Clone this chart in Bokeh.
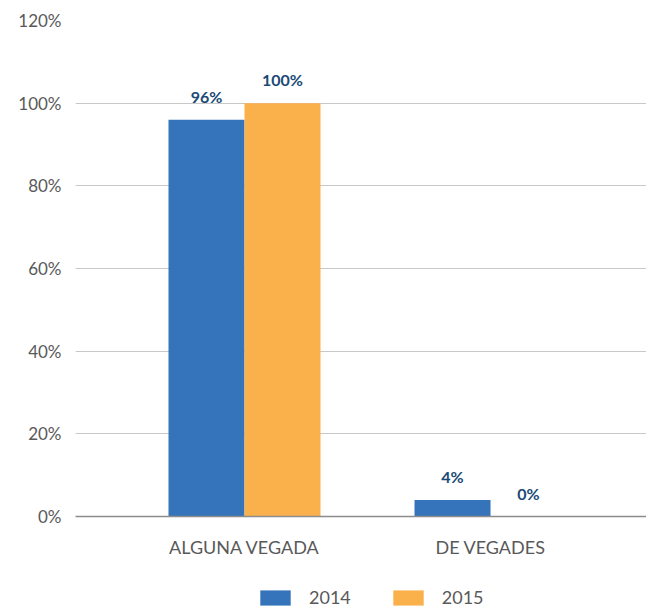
from bokeh.plotting import figure
from bokeh.layouts import column
from bokeh.models import ColumnDataSource, Range1d, FixedTicker, Legend, LegendItem, LabelSet
from bokeh.core.properties import value
from bokeh.embed import file_html
from bokeh.resources import INLINE

categories = ["ALGUNA VEGADA", "DE VEGADES"]
years = ["2014", "2015"]
values_2014 = [96, 4]
values_2015 = [100, 0]
y_ticks = [0, 20, 40, 60, 80, 100, 120]
colors = ["#3574BB", "#FBB14B"]

FONT = "Lato"
idx = [i + 0.5 for i in range(len(categories))]
bw = 0.309

p = figure(width=646, height=560, output_backend="svg", toolbar_location=None,
           x_range=Range1d(-0.187, 2.134), y_range=Range1d(0, 120),
           min_border_left=75, min_border_right=0, min_border_top=20, min_border_bottom=43)
p.outline_line_color = None
p.background_fill_color = "white"

for vals, off, col in [(values_2014, -bw / 2, colors[0]), (values_2015, bw / 2, colors[1])]:
    src = ColumnDataSource(dict(x=[i + off for i in idx], top=vals,
                                lbl=[f"{v}%" for v in vals]))
    p.vbar(x="x", top="top", width=bw, source=src, fill_color=col, line_color=None)
    p.add_layout(LabelSet(x="x", y="top", text="lbl", source=src, y_offset=14,
                          text_align="center", text_baseline="bottom",
                          text_font=value(FONT), text_font_size=value("16px"),
                          text_font_style="bold", text_color="#1A4A75"))

p.yaxis.ticker = FixedTicker(ticks=y_ticks)
p.yaxis.major_label_overrides = {t: f"{t}%" for t in y_ticks}
p.yaxis.axis_line_color = None
p.yaxis.major_tick_line_color = None
p.yaxis.minor_tick_line_color = None
p.yaxis.major_label_standoff = 8
p.yaxis.major_label_text_font = FONT
p.yaxis.major_label_text_font_size = "17px"
p.yaxis.major_label_text_color = "#595959"

p.xaxis.ticker = FixedTicker(ticks=idx)
p.xaxis.major_label_overrides = {v: c for v, c in zip(idx, categories)}
p.xaxis.axis_line_color = "#8c8c8c"
p.xaxis.axis_line_width = 1.5
p.xaxis.major_tick_line_color = None
p.xaxis.minor_tick_line_color = None
p.xaxis.major_label_standoff = 13
p.xaxis.major_label_text_font = FONT
p.xaxis.major_label_text_font_size = "18px"
p.xaxis.major_label_text_color = "#595959"

p.xgrid.grid_line_color = None
p.ygrid.grid_line_color = "#c8c8c8"
p.ygrid.grid_line_width = 1.2

# legend strip below the chart (swatch renderers sit outside the visible range)
lf = figure(width=646, height=48, output_backend="svg", toolbar_location=None,
            x_axis_type=None, y_axis_type=None, x_range=Range1d(0, 1), y_range=Range1d(0, 1),
            min_border_left=0, min_border_right=0, min_border_top=0, min_border_bottom=0)
lf.outline_line_color = None
lf.xgrid.grid_line_color = None
lf.ygrid.grid_line_color = None
items = []
for y, col in zip(years, colors):
    r = lf.vbar(x=[-5], top=[0], width=0.1, fill_color=col, line_color=None)
    items.append(LegendItem(label=y, renderers=[r]))
legend = Legend(items=items, orientation="horizontal", location=(181, 0),
                glyph_width=38, glyph_height=19, spacing=38, label_standoff=15,
                label_text_font=FONT, label_text_font_size="18px", label_text_color="#595959",
                border_line_color=None, background_fill_alpha=0, margin=0, padding=0)
lf.add_layout(legend, "center")

layout = column(p, lf, spacing=0)
open("out.html", "w").write(file_html(layout, INLINE))
